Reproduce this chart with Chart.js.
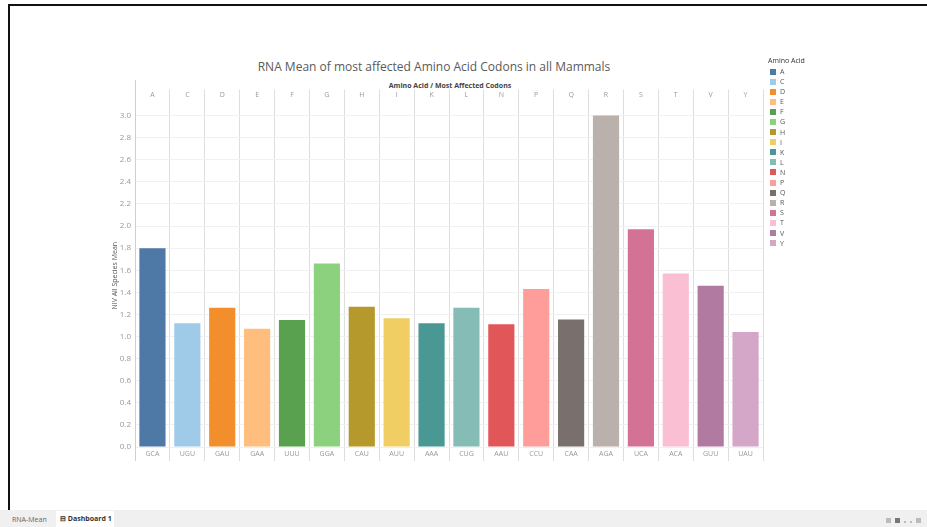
<!DOCTYPE html>
<html>
<head>
<meta charset="utf-8">
<script src="https://cdn.jsdelivr.net/npm/chart.js@4"></script>
<style>
  html, body { margin: 0; padding: 0; background: #fff; }
  body { width: 927px; height: 527px; position: relative; overflow: hidden; font-family: 'Open Sans', 'Lato', sans-serif; }
  .frame-top { position: absolute; left: 8px; top: 4px; width: 919px; height: 2px; background: #111; }
  .frame-left { position: absolute; left: 8px; top: 4px; width: 2px; height: 506px; background: #111; }
  #title { position: absolute; left: 134px; width: 600px; top: 58px; text-align: center; font-size: 12px; color: #5a5a5a; }
  #header { position: absolute; left: 335px; width: 230px; top: 81px; text-align: center; font-size: 7px; font-weight: bold; color: #444; }
  #chart-wrap { position: absolute; left: 95px; top: 78px; width: 680px; height: 400px; }
  #legend { position: absolute; left: 768px; top: 56px; font-size: 7px; color: #555; }
  #legend .ttl { color: #333; margin-bottom: 2px; height: 9px; }
  #legend .item { height: 10.1px; line-height: 10.1px; white-space: nowrap; }
  #legend .sw { display: inline-block; width: 6px; height: 6px; margin: 0 4px 0 2px; vertical-align: -0.5px; }
  .tabbar { position: absolute; left: 0; top: 510px; width: 927px; height: 17px; background: #f0f0f0; font-size: 7px; color: #666; }
  .tab1 { position: absolute; left: 12px; top: 5px; }
  .tab2 { position: absolute; left: 56px; top: 1px; height: 16px; width: 58px; background: #fff; color: #333; font-weight: bold; line-height: 16px; padding-left: 4px; box-sizing: border-box; }
  .icons { position: absolute; right: 6px; top: 6px; }
  .icons span { display: inline-block; width: 5px; height: 5px; margin-left: 4px; background: #bbb; }
  .icons span.dk { background: #777; }
  .icons span.sm { width: 2px; height: 2px; }
</style>
</head>
<body>
<div class="frame-top"></div>
<div class="frame-left"></div>
<div id="title">RNA Mean of most affected Amino Acid Codons in all Mammals</div>
<div id="header">Amino Acid / Most Affected Codons</div>
<div id="chart-wrap"><canvas id="codonChart" width="680" height="400"></canvas></div>
<div id="legend"></div>
<div class="tabbar">
  <div class="tab1">RNA-Mean</div>
  <div class="tab2">&#8863; Dashboard 1</div>
  <div class="icons"><span></span><span class="dk"></span><span class="sm"></span><span class="sm"></span><span></span></div>
</div>
<script>
// --- DATA ---
const aminoAcids = ['A', 'C', 'D', 'E', 'F', 'G', 'H', 'I', 'K', 'L', 'N', 'P', 'Q', 'R', 'S', 'T', 'V', 'Y'];
const codons = ['GCA', 'UGU', 'GAU', 'GAA', 'UUU', 'GGA', 'CAU', 'AUU', 'AAA', 'CUG', 'AAU', 'CCU', 'CAA', 'AGA', 'UCA', 'ACA', 'GUU', 'UAU'];
const meanValues = [1.80, 1.12, 1.26, 1.07, 1.15, 1.66, 1.27, 1.165, 1.12, 1.26, 1.11, 1.43, 1.155, 3.00, 1.97, 1.57, 1.46, 1.04];
const aminoColors = ['#4e79a7', '#a0cbe8', '#f28e2b', '#ffbe7d', '#59a14f', '#8cd17d', '#b6992d', '#f1ce63', '#499894',
                     '#86bcb6', '#e15759', '#ff9d9a', '#79706e', '#bab0ac', '#d37295', '#fabfd2', '#b07aa1', '#d4a6c8'];

// --- LEGEND (html) ---
const legendEl = document.getElementById('legend');
legendEl.innerHTML = '<div class="ttl">Amino Acid</div>' + aminoAcids.map((a, i) =>
    `<div class="item"><span class="sw" style="background:${aminoColors[i]}"></span>${a}</div>`).join('');

// extends the left axis line above and below the plot like the Tableau sheet
const axisLinePlugin = {
    id: 'axisLine',
    afterDraw(chart) {
        const { ctx, chartArea } = chart;
        ctx.save();
        ctx.strokeStyle = '#cfcfcf';
        ctx.lineWidth = 1;
        ctx.beginPath();
        ctx.moveTo(chartArea.left + 0.5, 2);
        ctx.lineTo(chartArea.left + 0.5, chartArea.bottom + 14);
        ctx.stroke();
        ctx.restore();
    }
};

const tickFont = { family: "'Open Sans', sans-serif", size: 7 };

new Chart(document.getElementById('codonChart').getContext('2d'), {
    type: 'bar',
    data: {
        labels: codons,
        datasets: [{
            label: 'NIV All Species Mean',
            data: meanValues,
            backgroundColor: aminoColors,
            borderWidth: 0,
            barPercentage: 0.75,
            categoryPercentage: 1.0
        }]
    },
    options: {
        responsive: false,
        animation: false,
        layout: { padding: { left: 0, right: 12, top: 0, bottom: 0 } },
        plugins: { legend: { display: false }, tooltip: { enabled: false } },
        scales: {
            x: {
                position: 'bottom',
                grid: { offset: true, color: '#dedede', tickLength: 14, drawTicks: true },
                border: { display: false },
                ticks: { color: '#999', font: tickFont, padding: -11, autoSkip: false, maxRotation: 0 },
                afterFit: (s) => { s.height = 31; }
            },
            xTop: {
                type: 'category',
                position: 'top',
                labels: aminoAcids,
                grid: { offset: true, color: '#dedede', tickLength: 15, drawOnChartArea: false },
                border: { display: false },
                ticks: { color: '#999', font: tickFont, padding: -10, autoSkip: false, maxRotation: 0 },
                afterFit: (s) => { s.height = 26.5; }
            },
            y: {
                min: 0,
                max: 3.1,
                grid: { color: '#f0f0f0', drawTicks: false },
                border: { display: false },
                ticks: {
                    stepSize: 0.2,
                    includeBounds: false,
                    color: '#999',
                    font: { family: "'Open Sans', sans-serif", size: 8 },
                    padding: 4,
                    callback: (v) => v.toFixed(1)
                },
                title: {
                    display: true,
                    text: 'NIV All Species Mean',
                    color: '#555',
                    font: { family: "'Open Sans', sans-serif", size: 7 },
                    padding: { top: 16, bottom: 0 }
                },
                afterFit: (s) => { s.width = 40; }
            }
        }
    },
    plugins: [axisLinePlugin]
});
</script>
</body>
</html>
